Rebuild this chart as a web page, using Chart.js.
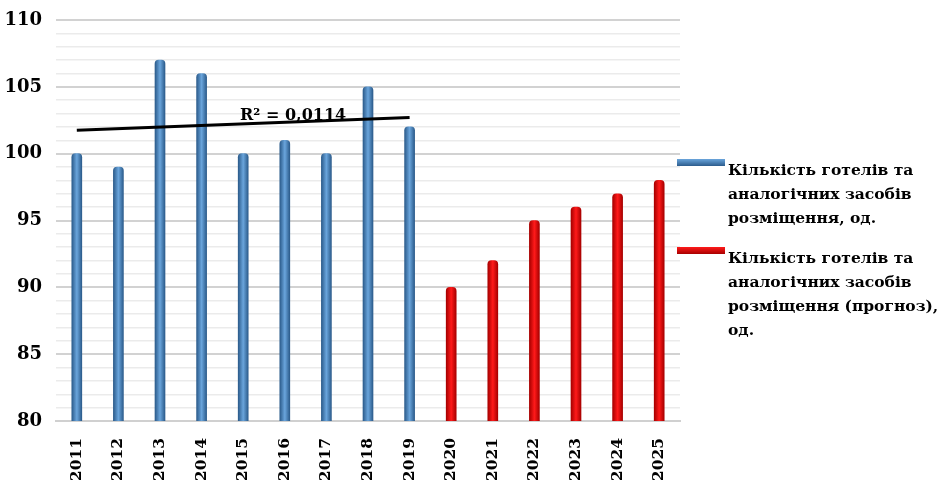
<!DOCTYPE html>
<html>
<head>
<meta charset="utf-8">
<script src="https://cdn.jsdelivr.net/npm/chart.js@4.4.1/dist/chart.umd.min.js"></script>
<style>
body { margin: 0; background: #fff; }
#wrap { position: relative; width: 946px; height: 480px; }
#legend { position: absolute; left: 677px; top: 0; font: bold 15.5px "DejaVu Serif", serif; color: #000; }
.swatch { position: absolute; left: 0; width: 48px; height: 7px; }
.label { position: absolute; left: 51px; line-height: 24px; white-space: nowrap; }
</style>
</head>
<body>
<div id="wrap">
	<canvas id="barChart" width="946" height="480"></canvas>
	<div id="legend"></div>
</div>
<script>
var years = ['2011', '2012', '2013', '2014', '2015', '2016', '2017', '2018', '2019', '2020', '2021', '2022', '2023', '2024', '2025'];
var hotelsActual = [100, 99, 107, 106, 100, 101, 100, 105, 102, null, null, null, null, null, null];
var hotelsForecast = [null, null, null, null, null, null, null, null, null, 90, 92, 95, 96, 97, 98];
// linear trend (ends at 2011 and 2019)
var trendValues = [101.75, null, null, null, null, null, null, null, 102.7, null, null, null, null, null, null];
var trendLabel = 'R² = 0,0114';
var yTicks = [80, 85, 90, 95, 100, 105, 110];
var legendActual = ['Кількість готелів та', 'аналогічних засобів', 'розміщення, од.'];
var legendForecast = ['Кількість готелів та', 'аналогічних засобів', 'розміщення (прогноз),', 'од.'];

var app = {};
app.Main = {
	init: function () {
		var file = this;
		file.barChartHotels();
		file.legend();
	},
	cylinder: function (light, dark) {
		return function (ctx) {
			var chart = ctx.chart;
			if (!chart.chartArea || ctx.dataIndex === undefined) return light;
			var x = chart.scales.x.getPixelForValue(ctx.dataIndex);
			var g = chart.ctx.createLinearGradient(x - 5, 0, x + 5, 0);
			g.addColorStop(0, dark);
			g.addColorStop(0.5, light);
			g.addColorStop(1, dark);
			return g;
		};
	},
	barChartHotels: function () {
		var file = this;
		var trendText = {
			id: 'trendText',
			afterDatasetsDraw: function (chart) {
				var c = chart.ctx;
				var x = chart.scales.x.getPixelForValue(5.2);
				var y = chart.scales.y.getPixelForValue(102.8);
				c.save();
				c.font = 'bold 16px "DejaVu Serif", serif';
				c.fillStyle = '#000';
				c.textAlign = 'center';
				c.textBaseline = 'middle';
				c.fillText(trendLabel, x, y);
				c.restore();
			}
		};

		var barChartCanvas = document.getElementById('barChart').getContext('2d');
		new Chart(barChartCanvas, {
			type: 'bar',
			data: {
				labels: years,
				datasets: [
					{
						type: 'line',
						label: 'trend',
						data: trendValues,
						borderColor: '#000',
						borderWidth: 3,
						pointRadius: 0,
						spanGaps: true,
						order: 0
					},
					{
						label: legendActual.join(' '),
						data: hotelsActual,
						backgroundColor: file.cylinder('#6aa5dc', '#2c5c8c'),
						barThickness: 10,
						borderRadius: { topLeft: 4, topRight: 4 },
						borderSkipped: 'bottom',
						order: 1
					},
					{
						label: legendForecast.join(' '),
						data: hotelsForecast,
						backgroundColor: file.cylinder('#ff1a1a', '#a80000'),
						barThickness: 10,
						borderRadius: { topLeft: 4, topRight: 4 },
						borderSkipped: 'bottom',
						order: 1
					}
				]
			},
			options: {
				responsive: false,
				animation: false,
				datasets: { bar: { grouped: false } },
				layout: { padding: { left: 6, right: 266, top: 20, bottom: 0 } },
				plugins: {
					legend: { display: false },
					tooltip: { enabled: false }
				},
				scales: {
					x: {
						grid: { display: false },
						border: { display: true, color: '#d0d0d0', width: 2 },
						afterFit: function (scale) { scale.height = 59; },
						ticks: {
							color: '#000',
							font: { family: 'DejaVu Serif', weight: 'bold', size: 15.5 },
							minRotation: 90,
							maxRotation: 90,
							padding: 9
						}
					},
					y: {
						min: 80,
						max: 110,
						border: { display: false },
						afterFit: function (scale) { scale.width = 50; scale.paddingTop = 0; },
						grid: {
							drawTicks: false,
							color: function (c) { return yTicks.indexOf(c.tick.value) >= 0 ? '#d2d2d2' : '#ebebeb'; },
							lineWidth: function (c) { return yTicks.indexOf(c.tick.value) >= 0 ? 2 : 1.5; }
						},
						ticks: {
							stepSize: 1,
							autoSkip: false,
							color: '#000',
							padding: 14,
							font: { family: 'DejaVu Serif', weight: 'bold', size: 18 },
							callback: function (value) { return yTicks.indexOf(value) >= 0 ? value : ''; }
						}
					}
				}
			},
			plugins: [trendText]
		});
	},
	legend: function () {
		var box = document.getElementById('legend');
		var items = [
			{ lines: legendActual, top: 158, colors: ['#2c5c8c', '#6aa5dc'] },
			{ lines: legendForecast, top: 246, colors: ['#a80000', '#ff1a1a'] }
		];
		items.forEach(function (item) {
			var sw = document.createElement('div');
			sw.className = 'swatch';
			sw.style.top = (item.top + 1) + 'px';
			sw.style.background = 'linear-gradient(' + item.colors[1] + ', ' + item.colors[0] + ')';
			box.appendChild(sw);
			var lb = document.createElement('div');
			lb.className = 'label';
			lb.style.top = item.top + 'px';
			lb.innerHTML = item.lines.join('<br>');
			box.appendChild(lb);
		});
	}
};

window.onload = function () {
	app.Main.init();
};
</script>
</body>
</html>
